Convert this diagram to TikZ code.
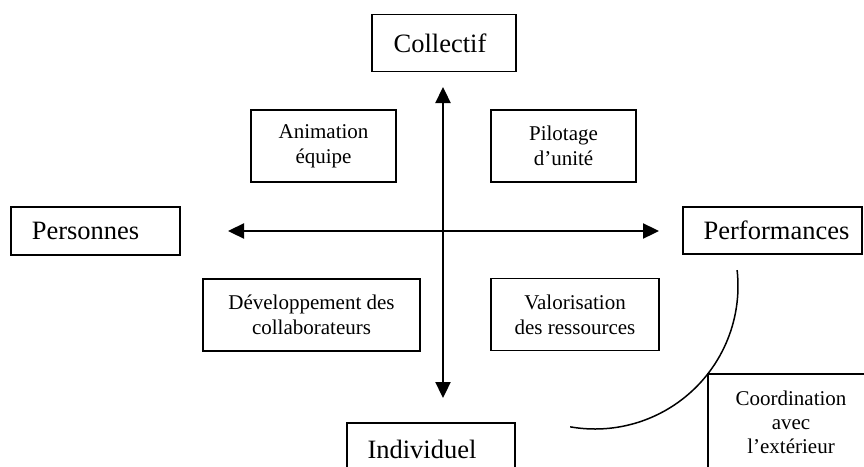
\documentclass[tikz,border=0pt]{standalone}
\usepackage{fontspec}
\setmainfont{Liberation Serif}
\usetikzlibrary{arrows.meta}
\begin{document}
\begin{tikzpicture}[x=1pt,y=-1pt,
  big/.style={draw,line width=1.5pt,font=\fontsize{26.5}{30}\selectfont,inner sep=0pt},
  small/.style={draw,line width=1.5pt,font=\fontsize{21}{25}\selectfont,align=center,inner sep=0pt},
  axis/.style={line width=2.3pt,{Triangle[length=16pt,width=15pt]}-{Triangle[length=16pt,width=15pt]}}]
\useasboundingbox (0,0) rectangle (864,466);
% outer labels
\node[big,minimum width=144pt,minimum height=57pt] (coll) at (444,43) {\hspace*{-8pt}Collectif};
\node[big,minimum width=169pt,minimum height=48pt] (pers) at (95.5,231) {\hspace*{-20pt}Personnes};
\node[big,minimum width=179pt,minimum height=47pt] (perf) at (772.5,230.5) {\hspace*{8pt}Performances};
% individuel (cut off)
\draw[line width=1.5pt] (347,470) -- (347,423) -- (515,423) -- (515,470);
\node[font=\fontsize{26.5}{30}\selectfont,anchor=base] (indiv) at (422,458) {Individuel};
% inner boxes
\node[small,minimum width=145pt,minimum height=72pt] (anim) at (323.5,146) {Animation\\équipe};
\node[small,minimum width=145pt,minimum height=72pt] (pilo) at (563.5,146) {Pilotage\\d’unité};
\node[small,minimum width=217pt,minimum height=72pt] (dev) at (311.5,315) {Développement des\\collaborateurs};
\node[small,minimum width=168pt,minimum height=72pt] (valo) at (575,314.5) {Valorisation\\des ressources};
% axes
\coordinate (top) at (443,87);
\coordinate (bot) at (443,398);
\coordinate (left) at (228,231);
\coordinate (right) at (659,231);
\draw[axis] (bot) -- (top);
\draw[axis] (left) -- (right);
% arc
\coordinate (arcc) at (595,286);
\draw[line width=1.5pt] (arcc) ++(6.4:143pt) arc[start angle=6.4,end angle=-100,radius=143pt];
% coordination box (cut off)
\draw[line width=1.5pt] (708,470) -- (708,374) -- (868,374);
\node[font=\fontsize{21}{24}\selectfont,align=center,anchor=north] (coord) at (791,387) {Coordination\\avec\\l’extérieur};
\end{tikzpicture}
\end{document}
